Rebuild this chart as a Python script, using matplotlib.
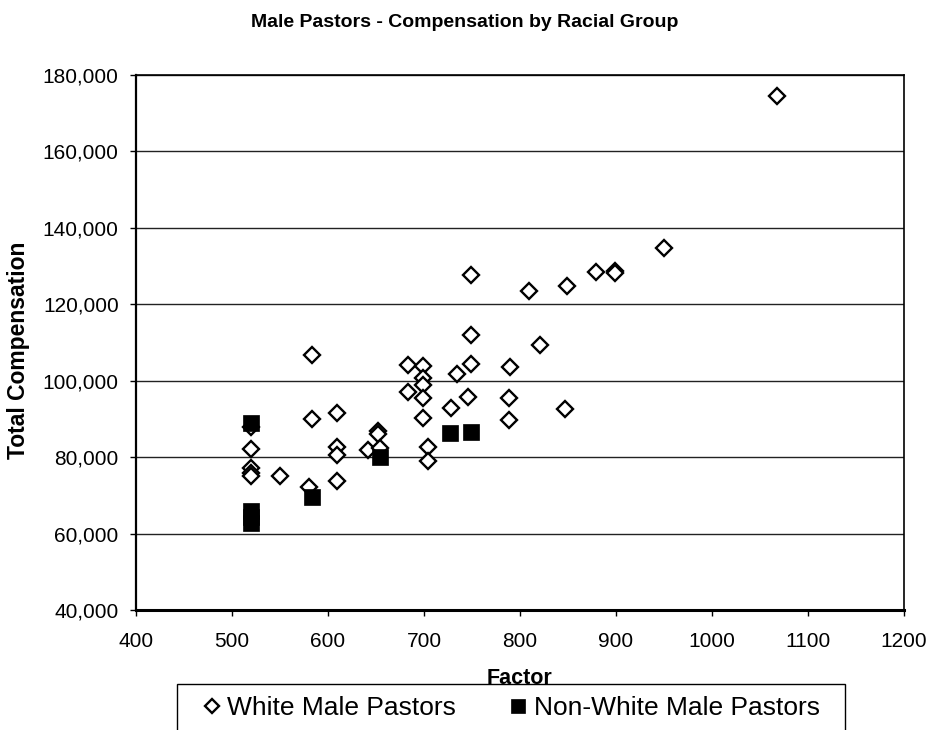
import matplotlib
matplotlib.use("Agg")
import matplotlib.pyplot as plt
from matplotlib.patches import Rectangle
from matplotlib.ticker import FuncFormatter, MultipleLocator

plt.rcParams['font.family'] = ['Liberation Sans', 'DejaVu Sans']

# white male pastors: factor, total compensation
white_factor = [520, 520, 520, 520, 520, 550, 580, 583, 583,
                609, 609, 609, 609, 642, 652, 652, 654, 683, 683,
                699, 699, 699, 699, 699, 704, 704, 728, 734, 746,
                749, 749, 749, 789, 789, 790, 809, 821, 847, 849,
                879, 899, 899, 950, 1068]
white_comp = [87900, 82100, 77200, 75800, 75000, 75000, 72200, 106700, 90000,
              91600, 82700, 80500, 73800, 81900, 86800, 86000, 82300, 104100, 97100,
              103900, 100800, 98900, 95600, 90300, 82700, 79100, 92800, 101800, 95700,
              127700, 112000, 104300, 95400, 89600, 103500, 123500, 109300, 92600, 124900,
              128400, 128800, 128100, 134800, 174500]

# non-white male pastors
nonwhite_factor = [520, 520, 520, 520, 583, 654, 727, 749]
nonwhite_comp = [89000, 65800, 64300, 62700, 69500, 80000, 86400, 86700]

W, H = 930, 730
fig = plt.figure(figsize=(W / 100, H / 100), dpi=100)
ax = fig.add_axes([136 / W, 1 - 610 / H, (904 - 136) / W, (610 - 75) / H])

ax.plot(white_factor, white_comp, linestyle='none', marker='D', ms=8,
        mfc='white', mec='black', mew=1.7, label='White Male Pastors', zorder=3)
ax.plot(nonwhite_factor, nonwhite_comp, linestyle='none', marker='s', ms=11.2,
        mfc='black', mec='black', mew=0.5, label='Non-White Male Pastors', zorder=4)

ax.set_xlim(400, 1200)
ax.set_ylim(40000, 180000)
ax.xaxis.set_major_locator(MultipleLocator(100))
ax.yaxis.set_major_locator(MultipleLocator(20000))
ax.yaxis.set_major_formatter(FuncFormatter(lambda v, p: f"{int(v):,}"))
ax.grid(axis='y', color='#222222', linewidth=1.0)
ax.set_axisbelow(True)

for side in ['top', 'right']:
    ax.spines[side].set_linewidth(1.2)
ax.spines['left'].set_linewidth(1.6)
ax.spines['bottom'].set_linewidth(2.2)
ax.tick_params(axis='both', direction='out', length=4.5, width=1.0, labelsize=15)
ax.tick_params(axis='y', pad=8)
ax.tick_params(axis='x', pad=11)

fig.text(0.5, 1 - 27 / H, 'Male Pastors - Compensation by Racial Group',
         ha='center', va='baseline', fontsize=14, fontweight='bold')
fig.text(520 / W, 1 - 684 / H, 'Factor', ha='center', va='baseline',
         fontsize=15.5, fontweight='bold')
fig.text(19 / W, 1 - 350 / H, 'Total Compensation', ha='center', va='center',
         rotation=90, fontsize=16.5, fontweight='bold')

# legend box, runs off the bottom edge like the original
fig.patches.append(Rectangle((177 / W, -0.02), (845 - 177) / W, (730 - 684) / H + 0.02,
                             transform=fig.transFigure, facecolor='white',
                             edgecolor='black', linewidth=1.0, zorder=1))
leg = fig.legend(loc='upper left', bbox_to_anchor=(201 / W, 1 - 696 / H), ncol=2,
                 fontsize=19, frameon=False, borderpad=0, borderaxespad=0,
                 handlelength=0.8, handletextpad=0.2, columnspacing=1.95,
                 markerscale=0.9)
leg.set_zorder(2)

fig.savefig('out.png', dpi=100)
